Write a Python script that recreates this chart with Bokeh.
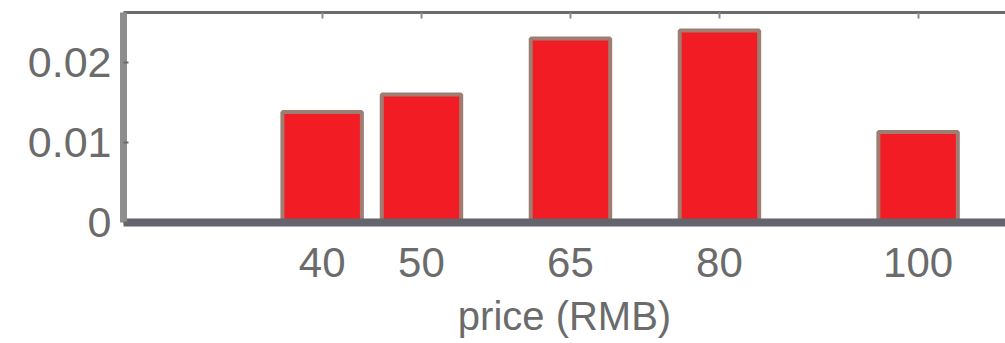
from bokeh.plotting import figure
from bokeh.models import LinearAxis, FixedTicker, ColumnDataSource, CustomJSTickFormatter
from bokeh.embed import file_html
from bokeh.resources import INLINE

prices = [40, 50, 65, 80, 100]
density = [0.0138, 0.0160, 0.0230, 0.0240, 0.0113]
x_ticks = [40, 50, 65, 80, 100]
y_ticks = [0, 0.01, 0.02]
y_tick_labels = ["0", "0.01", "0.02"]
x_title = "price (RMB)"

src = ColumnDataSource(dict(x=prices, top=density))

p = figure(width=1005, height=343, x_range=(20, 108.8), y_range=(0, 0.02625),
           output_backend="svg", toolbar_location=None,
           x_axis_location=None, y_axis_location=None,
           min_border_left=123, min_border_right=0, min_border_top=12,
           min_border_bottom=121)
p.outline_line_color = None
p.xgrid.visible = False
p.ygrid.visible = False
p.background_fill_color = "white"
p.border_fill_color = "white"

p.vbar(x="x", top="top", bottom=0, width=8, source=src,
       fill_color="#f21c24", line_color="#a07d72", line_width=4)

font = "Liberation Sans"
lab_col = "#6b6b6b"

left = LinearAxis(ticker=FixedTicker(ticks=y_ticks))
left.major_label_overrides = {t: s for t, s in zip(y_ticks, y_tick_labels)}
left.axis_line_width = 7
left.axis_line_color = "#8e8e8e"
left.major_tick_in = 5
left.major_tick_out = 0
left.major_tick_line_color = "#6a6a6a"
left.major_tick_line_width = 2
left.minor_tick_line_color = None
left.major_label_standoff = 12
left.major_label_text_font = font
left.major_label_text_font_size = "43px"
left.major_label_text_color = lab_col
p.add_layout(left, "left")

bottom = LinearAxis(ticker=FixedTicker(ticks=x_ticks))
bottom.axis_line_width = 8
bottom.axis_line_color = "#64646c"
bottom.major_tick_in = 0
bottom.major_tick_out = 0
bottom.minor_tick_line_color = None
bottom.major_label_standoff = 25
bottom.major_label_text_font = font
bottom.major_label_text_font_size = "42px"
bottom.major_label_text_color = lab_col
bottom.axis_label = x_title
bottom.axis_label_text_font = font
bottom.axis_label_text_font_size = "40px"
bottom.axis_label_text_font_style = "normal"
bottom.axis_label_text_color = lab_col
bottom.axis_label_standoff = 14
p.add_layout(bottom, "below")

top = LinearAxis(ticker=FixedTicker(ticks=x_ticks))
top.formatter = CustomJSTickFormatter(code="return ''")
top.axis_line_width = 3
top.axis_line_color = "#6a6a6a"
top.major_tick_in = 6
top.major_tick_out = 0
top.major_tick_line_color = "#8a8a8a"
top.major_tick_line_width = 2
top.minor_tick_line_color = None
top.major_label_standoff = 0
p.add_layout(top, "above")

open("out.html", "w").write(file_html(p, INLINE))
